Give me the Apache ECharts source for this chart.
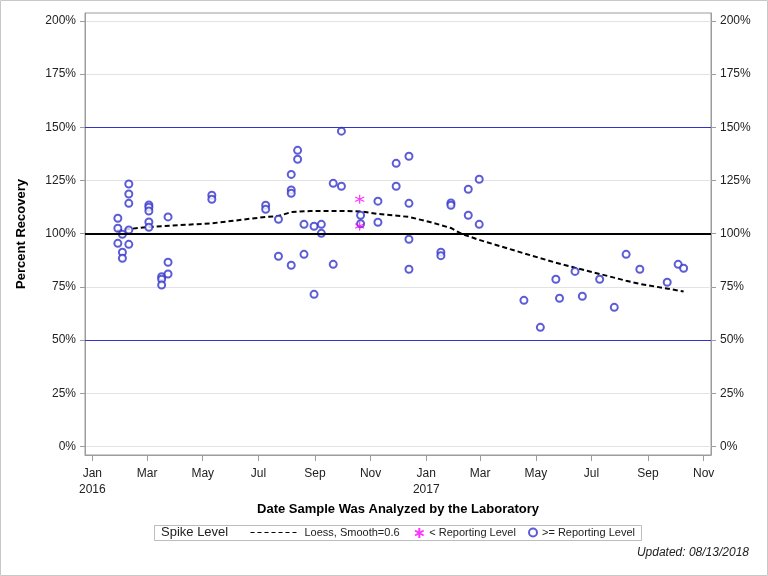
<!DOCTYPE html>
<html>
<head>
<meta charset="utf-8">
<script src="https://cdn.jsdelivr.net/npm/echarts@6/dist/echarts.min.js"></script>
<style>
  html, body { margin: 0; padding: 0; background: #fff; }
  #main { width: 768px; height: 576px; }
</style>
</head>
<body>
<div id="main"></div>
<script>
// spike recovery, >= reporting level (date, percent)
var geDates = [
  '2016-01-29', '2016-01-29', '2016-01-29',
  '2016-02-03', '2016-02-03', '2016-02-03',
  '2016-02-10', '2016-02-10', '2016-02-10', '2016-02-10', '2016-02-10',
  '2016-03-03', '2016-03-03', '2016-03-03', '2016-03-03', '2016-03-03',
  '2016-03-17', '2016-03-17', '2016-03-17',
  '2016-03-24', '2016-03-24', '2016-03-24',
  '2016-05-11', '2016-05-11',
  '2016-07-09', '2016-07-09',
  '2016-07-23', '2016-07-23',
  '2016-08-06', '2016-08-06', '2016-08-06', '2016-08-06',
  '2016-08-13', '2016-08-13',
  '2016-08-20', '2016-08-20',
  '2016-08-31', '2016-08-31',
  '2016-09-08', '2016-09-08',
  '2016-09-21', '2016-09-21',
  '2016-09-30', '2016-09-30',
  '2016-10-21', '2016-10-21',
  '2016-11-09', '2016-11-09',
  '2016-11-29', '2016-11-29',
  '2016-12-13', '2016-12-13', '2016-12-13', '2016-12-13',
  '2017-01-17', '2017-01-17',
  '2017-01-28', '2017-01-28',
  '2017-02-16', '2017-02-16',
  '2017-02-28', '2017-02-28',
  '2017-04-18', '2017-05-06', '2017-05-23', '2017-05-27',
  '2017-06-13', '2017-06-21', '2017-07-10', '2017-07-26',
  '2017-08-08', '2017-08-23', '2017-09-22', '2017-10-04', '2017-10-10'
];
var geValues = [
  107.3, 102.6, 95.5,
  99.7, 91.3, 88.5,
  123.4, 118.7, 114.3, 101.8, 95.0,
  113.5, 112.4, 110.7, 105.5, 103.0,
  79.8, 78.6, 75.9,
  107.9, 86.6, 81.1,
  118.1, 116.2,
  113.4, 111.5,
  106.8, 89.4,
  127.9, 120.6, 119.0, 85.2,
  139.2, 135.0,
  104.4, 90.3,
  103.5, 71.5,
  104.4, 100.2,
  123.7, 85.6,
  148.2, 122.3,
  108.7, 104.7,
  115.3, 105.4,
  133.1, 122.3,
  136.4, 114.3, 97.4, 83.3,
  91.3, 89.7,
  114.5, 113.4,
  120.9, 108.7,
  125.6, 104.4,
  68.7, 56.0, 78.6, 69.7,
  82.3, 70.6, 78.6, 65.4,
  90.3, 83.3, 77.2, 85.6, 83.8
];

// < reporting level
var ltDates = ['2016-10-20', '2016-10-20'];
var ltValues = [116.2, 103.6];

// loess fit, smooth=0.6
var loessDates = [
  '2016-01-28', '2016-02-10', '2016-03-03', '2016-05-11', '2016-07-09',
  '2016-07-23', '2016-08-06', '2016-08-27', '2016-09-30', '2016-10-21',
  '2016-11-09', '2016-12-13', '2017-01-06', '2017-01-28', '2017-02-09',
  '2017-02-28', '2017-04-18', '2017-05-23', '2017-06-13', '2017-07-10',
  '2017-08-08', '2017-08-23', '2017-10-10'
];
var loessValues = [
  101.4, 102.2, 103.2, 104.9, 107.9,
  108.3, 110.2, 110.7, 110.7, 110.5,
  109.3, 107.9, 105.4, 102.7, 99.9,
  97.1, 90.8, 86.4, 84.0, 81.1,
  77.9, 76.4, 72.9
];

var xTicks = [
  '2016-01-01', '2016-03-01', '2016-05-01', '2016-07-01', '2016-09-01', '2016-11-01',
  '2017-01-01', '2017-03-01', '2017-05-01', '2017-07-01', '2017-09-01', '2017-11-01'
];
var yTicks = [0, 25, 50, 75, 100, 125, 150, 175, 200];
var refLevels = [50, 100, 150];
var monthNames = ['Jan', 'Feb', 'Mar', 'Apr', 'May', 'Jun', 'Jul', 'Aug', 'Sep', 'Oct', 'Nov', 'Dec'];

var FONT = '"Liberation Sans", Arial, Helvetica, sans-serif';
var BLUE = '#3333cc';
var PINK = '#ff00ff';
var AXIS = '#9c9c9c';

function t(s) { return new Date(s + 'T00:00:00').getTime(); }
function pairs(ds, vs) { return ds.map(function (d, i) { return [t(d), vs[i]]; }); }

var chart = echarts.init(document.getElementById('main'), null, { renderer: 'canvas' });

function yAxisOpt(pos) {
  return {
    type: 'value',
    position: pos,
    min: -4,
    max: 203.75,
    minInterval: 25,
    maxInterval: 25,
    name: pos === 'left' ? 'Percent Recovery' : '',
    nameLocation: 'middle',
    nameGap: 57,
    nameTextStyle: { fontFamily: FONT, fontSize: 13, fontWeight: 'bold', color: '#000' },
    axisLine: { show: true, onZero: false, lineStyle: { color: AXIS } },
    axisTick: { show: true, length: 5, customValues: yTicks, lineStyle: { color: AXIS } },
    axisLabel: {
      customValues: yTicks, margin: 9,
      fontFamily: FONT, fontSize: 12, color: '#222',
      formatter: function (v) { return v + '%'; }
    },
    splitLine: { show: pos === 'left', lineStyle: { color: '#e3e3e3', width: 1 } }
  };
}

var xTickValues = xTicks.map(t);
var legendText = { fontFamily: FONT, fontSize: 11, color: '#222' };

var option = {
  animation: false,
  backgroundColor: '#fff',
  grid: {
    left: 85, right: 57, top: 13, bottom: 121,
    show: true, borderColor: AXIS, borderWidth: 1, backgroundColor: 'transparent'
  },
  xAxis: {
    type: 'value',
    min: t('2015-12-24'),
    max: t('2017-11-09'),
    name: 'Date Sample Was Analyzed by the Laboratory',
    nameLocation: 'middle',
    nameGap: 47,
    nameTextStyle: { fontFamily: FONT, fontSize: 13, fontWeight: 'bold', color: '#000' },
    axisLine: { show: true, onZero: false, lineStyle: { color: AXIS } },
    axisTick: { show: true, length: 6, customValues: xTickValues, lineStyle: { color: AXIS } },
    axisLabel: {
      customValues: xTickValues, margin: 11, lineHeight: 16,
      fontFamily: FONT, fontSize: 12, color: '#222',
      formatter: function (v) {
        var d = new Date(v);
        var m = monthNames[d.getMonth()];
        return d.getMonth() === 0 ? m + '\n' + d.getFullYear() : m;
      }
    },
    splitLine: { show: false }
  },
  yAxis: [yAxisOpt('left'), yAxisOpt('right')],
  legend: [
    {
      data: ['Loess, Smooth=0.6'],
      left: 250, top: 527, padding: 0,
      itemWidth: 49, itemHeight: 10, itemGap: 5,
      textStyle: legendText,
      itemStyle: { color: 'transparent', borderWidth: 0, opacity: 0 },
      lineStyle: { width: 1, type: [4, 3], color: '#000' },
      selectedMode: false
    },
    {
      data: ['< Reporting Level'],
      left: 414, top: 527, padding: 0,
      itemWidth: 10, itemHeight: 10,
      textStyle: legendText,
      selectedMode: false
    },
    {
      data: ['>= Reporting Level'],
      left: 528, top: 527, padding: 0,
      itemWidth: 8, itemHeight: 8,
      textStyle: legendText,
      selectedMode: false
    }
  ],
  series: [
    {
      name: 'Loess, Smooth=0.6',
      type: 'line',
      data: pairs(loessDates, loessValues),
      symbol: 'none',
      showSymbol: false,
      lineStyle: { color: '#000', width: 2, type: [5, 3] },
      itemStyle: { color: '#000' },
      z: 3
    },
    {
      name: '>= Reporting Level',
      type: 'scatter',
      data: pairs(geDates, geValues),
      symbol: 'emptyCircle',
      symbolSize: 7,
      itemStyle: { color: BLUE, borderColor: BLUE, borderWidth: 1 },
      z: 4,
      markLine: {
        silent: true,
        symbol: 'none',
        label: { show: false },
        data: refLevels.map(function (v) {
          return {
            yAxis: v,
            lineStyle: v === 100
              ? { color: '#000', width: 2, type: 'solid' }
              : { color: BLUE, width: 1, type: 'solid' }
          };
        })
      }
    },
    {
      name: '< Reporting Level',
      type: 'scatter',
      data: pairs(ltDates, ltValues),
      symbol: 'path://M5 0L5 10M0.67 2.5L9.33 7.5M0.67 7.5L9.33 2.5',
      symbolSize: 9,
      itemStyle: { color: 'transparent', borderColor: PINK, borderWidth: 1.2 },
      z: 5
    }
  ],
  graphic: [
    {
      type: 'rect', silent: true,
      shape: { x: 0.5, y: 0.5, width: 767, height: 575 },
      style: { fill: 'none', stroke: '#c8c8c8', lineWidth: 1 }
    },
    {
      type: 'rect', silent: true,
      shape: { x: 154.5, y: 525.5, width: 487, height: 15 },
      style: { fill: 'none', stroke: '#bdbdbd', lineWidth: 1 }
    },
    {
      type: 'text', silent: true, left: 161, top: 526,
      style: { text: 'Spike Level', font: '13px ' + FONT, fill: '#222' }
    },
    {
      type: 'text', silent: true, right: 19, top: 547,
      style: { text: 'Updated: 08/13/2018', font: 'italic 12px ' + FONT, fill: '#222' }
    }
  ]
};

chart.setOption(option);
</script>
</body>
</html>
